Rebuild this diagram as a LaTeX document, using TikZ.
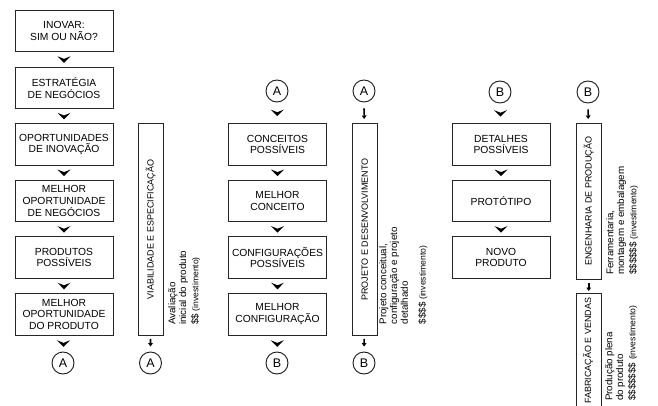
\documentclass[tikz,border=0pt]{standalone}
\usepackage{fontspec}
\setmainfont{Liberation Sans}
\usetikzlibrary{calc,arrows.meta}
\newcommand\mychev[2]{\fill[black] ($(#1.south)!0.5!(#2.north)$) +(-6.5,-3.2) -- +(0,-0.6) -- +(6.5,-3.2) -- +(0,3.4) -- cycle;}
\newcommand\inv{{\fontsize{8.6}{9}\selectfont (investimento)}}
\begin{document}
\begin{tikzpicture}[x=1pt,y=-1pt,
  box/.style={draw=black!85, line width=0.9pt, minimum width=98pt, minimum height=41.5pt, inner sep=0pt, align=center, font=\fontsize{10.3}{11.6}\selectfont, anchor=north},
  vbox/.style={draw=black!85, line width=0.9pt, inner sep=0pt, anchor=north west, minimum width=24.5pt},
  vlab/.style={rotate=90, inner sep=0pt, font=\fontsize{9}{10}\selectfont},
  circ/.style={circle, draw=black!90, line width=0.9pt, minimum size=22pt, inner sep=0pt, font=\fontsize{12.5}{12.5}\selectfont},
  side/.style={rotate=90, anchor=north west, align=left, inner sep=0pt, font=\fontsize{9.8}{10.8}\selectfont},
  small/.style={line width=1.7pt, -{Triangle[length=3.5pt,width=4.6pt]}}
]
\useasboundingbox (0,0) rectangle (658,406);
\clip (0,0) rectangle (658,406);
% column 1
\node[box] (b1) at (64,10) {INOVAR:\\SIM OU NÃO?};
\node[box] (b2) at (64,66.6) {ESTRATÉGIA\\DE NEGÓCIOS};
\node[box] (b3) at (64,123.2) {OPORTUNIDADES\\DE INOVAÇÃO};
\node[box] (b4) at (64,179.8) {MELHOR\\OPORTUNIDADE\\DE NEGÓCIOS};
\node[box] (b5) at (64,236.4) {PRODUTOS\\POSSÍVEIS};
\node[box] (b6) at (64,293) {MELHOR\\OPORTUNIDADE\\DO PRODUTO};
\node[circ] (a1) at (63,363) {A};
\mychev{b1}{b2}
\mychev{b2}{b3}
\mychev{b3}{b4}
\mychev{b4}{b5}
\mychev{b5}{b6}
\mychev{b6}{a1}
% viabilidade
\node[vbox, minimum height=212pt] (viab) at (138,123) {};
\node[vlab] (viabl) at (viab.center) {VIABILIDADE E ESPECIFICAÇÃO};
\node[circ] (a2) at (150.5,363) {A};
\draw[small, shorten <=3pt, shorten >=5pt] (viab) -- (a2);
\node[side] (t1) at (168,325) {Avaliação\\inicial do produto\\[1.5pt]\$\$ \inv};
% column 2
\node[circ] (a3) at (277,91) {A};
\node[box] (c1) at (277.5,123.2) {CONCEITOS\\POSSÍVEIS};
\node[box] (c2) at (277.5,179.8) {MELHOR\\CONCEITO};
\node[box] (c3) at (277.5,236.4) {CONFIGURAÇÕES\\POSSÍVEIS};
\node[box] (c4) at (277.5,293) {MELHOR\\CONFIGURAÇÃO};
\node[circ] (b7) at (277,363) {B};
\mychev{a3}{c1}
\mychev{c1}{c2}
\mychev{c2}{c3}
\mychev{c3}{c4}
\mychev{c4}{b7}
% projeto
\node[circ] (a4) at (364,91) {A};
\node[vbox, minimum height=212pt] (proj) at (352,123) {};
\node[vlab] (projl) at (proj.center) {PROJETO E DESENVOLVIMENTO};
\node[circ] (b8) at (364,363) {B};
\draw[small, shorten <=6pt, shorten >=4pt] (a4) -- (proj);
\draw[small, shorten <=3pt, shorten >=5pt] (proj) -- (b8);
\node[side] (t2) at (379,324.5) {Projeto conceitual,\\configuração e projeto\\detalhado\\[7pt]\$\$\$\$ \inv};
% column 3
\node[circ] (b9) at (500,92) {B};
\node[box] (d1) at (501,123.2) {DETALHES\\POSSÍVEIS};
\node[box] (d2) at (501,179.8) {PROTÓTIPO};
\node[box] (d3) at (501,236.4) {NOVO\\PRODUTO};
\mychev{b9}{d1}
\mychev{d1}{d2}
\mychev{d2}{d3}
% engenharia
\node[circ] (b10) at (588,92) {B};
\node[vbox, minimum height=156pt] (eng) at (576,123) {};
\node[vlab] (engl) at (eng.center) {ENGENHARIA DE PRODUÇÃO};
\draw[small, shorten <=6pt, shorten >=4pt] (b10) -- (eng);
\node[vbox, minimum height=130pt] (fab) at (576,293) {};
\node[vlab] (fabl) at (588,350.5) {FABRICAÇÃO E VENDAS};
\draw[small, shorten <=3pt, shorten >=2pt] (eng) -- (fab);
\node[side] (t3) at (606,275) {Ferramentaria,\\montagem e embalagem\\[1.5pt]\$\$\$\$\$\$ \inv};
\node[side] (t4) at (605,401) {Produção plena\\do produto\\[1.5pt]\$\$\$\$\$\$\$ \inv};
\end{tikzpicture}
\end{document}
